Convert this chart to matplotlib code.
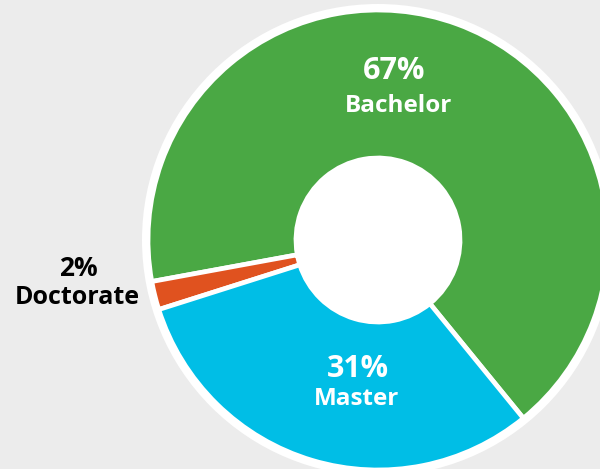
import matplotlib
matplotlib.use("Agg")
import matplotlib.pyplot as plt
from matplotlib.patches import Circle

categories = ["Bachelor", "Doctorate", "Master"]
values = [67, 2, 31]
pct_labels = ["67%", "2%", "31%"]
colors = ["#4aa844", "#e0521f", "#00bee6"]

W, H = 600, 469
fig = plt.figure(figsize=(6, 4.69), dpi=100)
fig.patch.set_facecolor("#ececec")
ax = fig.add_axes([0, 0, 1, 1])

cx, cy = 378, H - 240
R = 230
ax.add_patch(Circle((cx, cy), R + 6, facecolor="white", edgecolor="none", zorder=0))
ax.pie(values, colors=colors, startangle=-50.8, counterclock=True,
       center=(cx, cy), radius=R, frame=True,
       wedgeprops=dict(width=R - 82, edgecolor="white", linewidth=3.4))
ax.set_xlim(0, W)
ax.set_ylim(0, H)
ax.set_aspect("equal")
ax.axis("off")

font = "Open Sans"
ax.text(394, H - 71, pct_labels[0], color="white", fontsize=22, fontweight="bold",
        family=font, ha="center", va="center")
ax.text(399, H - 106, categories[0], color="white", fontsize=17.5, fontweight="bold",
        family=font, ha="center", va="center")
ax.text(358, H - 369, pct_labels[2], color="white", fontsize=22, fontweight="bold",
        family=font, ha="center", va="center")
ax.text(357, H - 399, categories[2], color="white", fontsize=17.5, fontweight="bold",
        family=font, ha="center", va="center")
ax.text(78, H - 268, pct_labels[1], color="black", fontsize=19, fontweight="bold",
        family=font, ha="center", va="center")
ax.text(77, H - 298, categories[1], color="black", fontsize=18, fontweight="bold",
        family=font, ha="center", va="center")

fig.savefig("out.png", dpi=100, facecolor=fig.get_facecolor())
